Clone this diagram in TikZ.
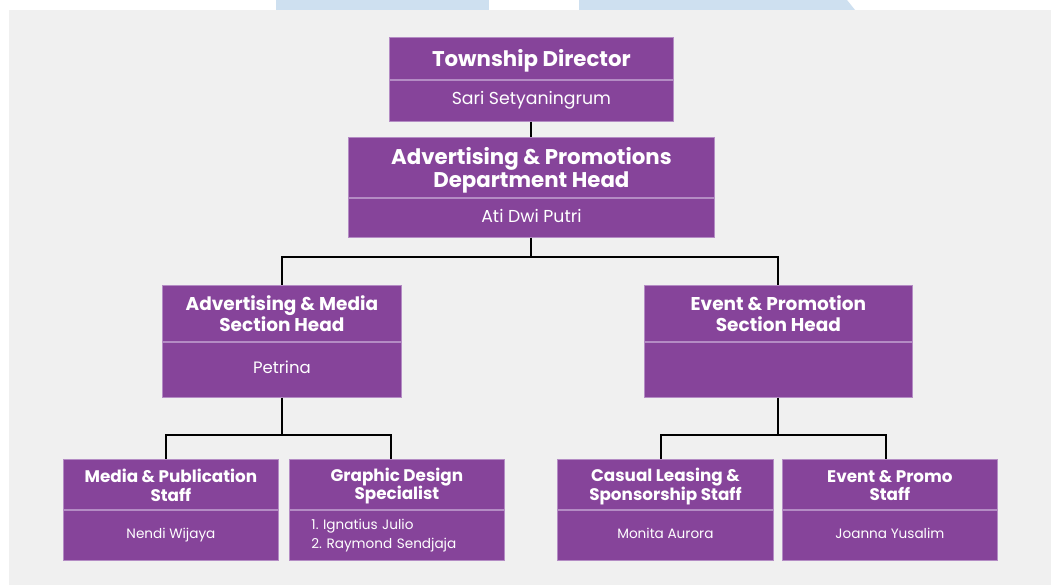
\documentclass[tikz,border=0pt]{standalone}
\usepackage{fontspec}
\setmainfont{Poppins}
\frenchspacing
\usetikzlibrary{calc}
\definecolor{boxpurple}{HTML}{86449A}
\definecolor{boxedge}{HTML}{B48CC4}
\definecolor{panelgray}{HTML}{F0F0F0}
\definecolor{wmblue}{HTML}{CEE0F0}
\newcommand\dropby[2]{\raisebox{-#1}[\height][\depth]{#2}}
\tikzset{
  box/.style={rectangle, fill=boxpurple, draw=boxedge, line width=0.8pt, inner sep=0pt, text=white, align=center, anchor=north west},
  namebox/.style={box, anchor=north},
  deptttl/.style={box, font=\bfseries\fontsize{21.3}{23}\selectfont},
  secttl/.style={box, font=\bfseries\fontsize{18.5}{20.7}\selectfont},
  staffttl/.style={box, font=\bfseries\fontsize{16.8}{18.5}\selectfont},
  bigname/.style={namebox, font=\fontsize{17.3}{19}\selectfont},
  secname/.style={namebox, font=\fontsize{16.5}{19}\selectfont},
  staffname/.style={namebox, font=\fontsize{13.6}{19}\selectfont},
  link/.style={draw=black, line width=2pt}
}
\begin{document}
\begin{tikzpicture}[x=1pt,y=-1pt]
\useasboundingbox (0,0) rectangle (1051,585);
\fill[white] (0,0) rectangle (1051,585);
\fill[panelgray] (9,10) rectangle (1051,585);
\fill[wmblue] (276,0) rectangle (489,10);
\fill[wmblue] (579,0) -- (847,0) -- (855,10) -- (579,10) -- cycle;

\node[deptttl, minimum width=284pt, minimum height=42pt] (tdt) at (389,37) {\dropby{2pt}{Township Director}};
\node[bigname, minimum width=284pt, minimum height=41pt] (tdn) at (tdt.south) {Sari Setyaningrum\rule[-4pt]{0pt}{4pt}};

\node[deptttl, minimum width=366pt, minimum height=60pt] (dht) at (348,137) {\dropby{3pt}{Advertising \& Promotions}\\\dropby{3pt}{Department Head}};
\node[bigname, minimum width=366pt, minimum height=39pt] (dhn) at (dht.south) {Ati Dwi Putri\rule[-4pt]{0pt}{4pt}};

\node[secttl, minimum width=239pt, minimum height=56pt] (ast) at (162,285) {Advertising \& Media\\Section Head};
\node[secname, minimum width=239pt, minimum height=55pt] (asn) at (ast.south) {Petrina\rule[-5pt]{0pt}{5pt}};

\node[secttl, minimum width=268pt, minimum height=56pt] (est) at (644,285) {Event \& Promotion\\Section Head};
\node[secname, minimum width=268pt, minimum height=55pt] (esn) at (est.south) {};

\node[staffttl, minimum width=215pt, minimum height=50pt] (mpt) at (63,459) {\dropby{1pt}{Media \& Publication}\\\dropby{1pt}{Staff}};
\node[staffname, minimum width=215pt, minimum height=50pt] (mpn) at (mpt.south) {Nendi Wijaya\rule[-4pt]{0pt}{4pt}};

\node[staffttl, minimum width=215pt, minimum height=50pt] (gdt) at (289,459) {\dropby{1.5pt}{Graphic Design}\\\dropby{1.5pt}{Specialist}};
\node[staffname, minimum width=215pt, minimum height=50pt, text width=171pt, align=left] (gdn) at (gdt.south) {1. Ignatius Julio\\2. Raymond Sendjaja};

\node[staffttl, minimum width=216pt, minimum height=50pt] (clt) at (557,459) {\dropby{2pt}{Casual Leasing \&}\\\dropby{2pt}{Sponsorship Staff}};
\node[staffname, minimum width=216pt, minimum height=50pt] (cln) at (clt.south) {Monita Aurora\rule[-4pt]{0pt}{4pt}};

\node[staffttl, minimum width=215pt, minimum height=50pt] (ept) at (782,459) {\dropby{1pt}{Event \& Promo}\\\dropby{1pt}{Staff}};
\node[staffname, minimum width=215pt, minimum height=50pt] (epn) at (ept.south) {Joanna Yusalim\rule[-4pt]{0pt}{4pt}};

\draw[link] (tdn.south) -- (dht.north);
\draw[link] (dhn.south) -- ++(0,19) coordinate (dj) -| (ast.north);
\draw[link] (dj) -| (est.north);
\draw[link] (asn.south) -- ++(0,37) coordinate (aj) -| ([xshift=-4.5pt]mpt.north);
\draw[link] (aj) -| ([xshift=-5.5pt]gdt.north);
\draw[link] (esn.south) -- ++(0,37) coordinate (ej) -| ([xshift=-4pt]clt.north);
\draw[link] (ej) -| ([xshift=-3.5pt]ept.north);
\end{tikzpicture}
\end{document}
